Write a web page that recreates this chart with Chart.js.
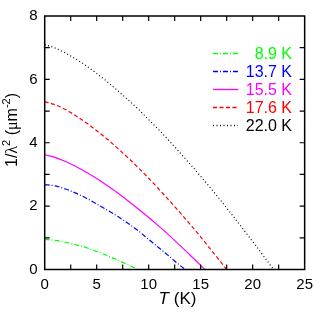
<!DOCTYPE html>
<html lang="en">
<head>
    <meta charset="UTF-8">
    <title>1/lambda^2 vs T</title>
    <script src="https://cdn.jsdelivr.net/npm/chart.js"></script>
    <style>
        body { margin: 0; padding: 0; background: #fff; }
        #wrap { width: 319px; height: 314px; }
    </style>
</head>
<body>
<div id="wrap"><canvas id="lambdaChart" width="319" height="314"></canvas></div>
<script>
    // 1/lambda^2 (um^-2), per sample
    const tcLabels = ['8.9 K', '13.7 K', '15.5 K', '17.6 K', '22.0 K'];

    const temps89 = [0, 1, 2, 3, 4, 5, 6, 7, 8, 8.5, 8.9];
    const vals89  = [0.95, 0.92, 0.86, 0.78, 0.69, 0.57, 0.44, 0.30, 0.15, 0.07, 0];

    const temps137 = [0, 1, 2, 3, 4, 5, 6, 7, 8, 9, 10, 11, 12, 13, 13.55];
    const vals137  = [2.68, 2.64, 2.54, 2.41, 2.25, 2.07, 1.88, 1.68, 1.46, 1.22, 0.95, 0.68, 0.41, 0.13, 0];

    const temps155 = [0, 1, 2, 3, 4, 5, 6, 7, 8, 9, 10, 11, 12, 13, 14, 15, 15.4];
    const vals155  = [3.62, 3.54, 3.41, 3.25, 3.07, 2.87, 2.65, 2.42, 2.17, 1.91, 1.64, 1.36, 1.07, 0.76, 0.45, 0.13, 0];

    const temps176 = [0, 1, 2, 3, 4, 5, 6, 7, 8, 9, 10, 11, 12, 13, 14, 15, 16, 17, 17.5];
    const vals176  = [5.30, 5.20, 5.05, 4.85, 4.63, 4.38, 4.12, 3.83, 3.53, 3.21, 2.88, 2.53, 2.17, 1.80, 1.42, 1.03, 0.62, 0.21, 0];

    const temps220 = [0, 1, 2, 3, 4, 5, 6, 7, 8, 9, 10, 11, 12, 13, 14, 15, 16, 17, 18, 19, 20, 21, 22];
    const vals220  = [7.10, 6.99, 6.83, 6.64, 6.43, 6.19, 5.93, 5.65, 5.36, 5.06, 4.73, 4.40, 4.05, 3.69, 3.32, 2.94, 2.55, 2.15, 1.73, 1.31, 0.88, 0.45, 0];

    const xTicks = [0, 5, 10, 15, 20, 25];
    const yTicks = [0, 2, 4, 6, 8];

    const FONT = '"Liberation Sans", Arial, Helvetica, sans-serif';

    const lineColors = ['#00ff00', '#0000ff', '#ff00ff', '#ff0000', '#000000'];
    const lineDashes = [[5, 2, 1, 2], [5, 2, 1, 2], [], [4, 2.5], [1, 2.5]];

    function pts(xs, ys) {
        return xs.map((x, i) => ({ x: x, y: ys[i] }));
    }

    const series = [
        pts(temps89, vals89),
        pts(temps137, vals137),
        pts(temps155, vals155),
        pts(temps176, vals176),
        pts(temps220, vals220)
    ];

    // frame, inward ticks, legend and axis titles
    const decor = {
        id: 'decor',
        afterDraw(chart) {
            const ctx = chart.ctx;
            const a = chart.chartArea;
            const xs = chart.scales.x, ys = chart.scales.y;
            ctx.save();
            ctx.strokeStyle = '#000';
            ctx.lineWidth = 1.5;
            ctx.setLineDash([]);
            ctx.strokeRect(a.left, a.top, a.right - a.left, a.bottom - a.top);

            ctx.lineWidth = 1.2;
            ctx.beginPath();
            for (let v = 2.5; v < 25; v += 2.5) {
                const px = xs.getPixelForValue(v);
                ctx.moveTo(px, a.bottom); ctx.lineTo(px, a.bottom - 5);
                ctx.moveTo(px, a.top); ctx.lineTo(px, a.top + 5);
            }
            for (let v = 1; v < 8; v += 1) {
                const py = ys.getPixelForValue(v);
                ctx.moveTo(a.left, py); ctx.lineTo(a.left + 5, py);
                ctx.moveTo(a.right, py); ctx.lineTo(a.right - 5, py);
            }
            ctx.stroke();
            ctx.restore();

            // legend
            const rowY = [53.5, 71.5, 89.5, 107.5, 125.5];
            for (let i = 0; i < tcLabels.length; i++) {
                ctx.save();
                ctx.setLineDash(lineDashes[i]);
                ctx.lineWidth = 1.3;
                ctx.strokeStyle = lineColors[i];
                ctx.beginPath();
                ctx.moveTo(213, rowY[i]);
                ctx.lineTo(238, rowY[i]);
                ctx.stroke();
                ctx.font = '16px ' + FONT;
                ctx.textAlign = 'right';
                ctx.textBaseline = 'middle';
                ctx.fillStyle = lineColors[i];
                ctx.fillText(tcLabels[i], 292, rowY[i] + 1);
                ctx.restore();
            }

            // x title: T (K)
            ctx.save();
            ctx.fillStyle = '#000';
            ctx.textBaseline = 'middle';
            ctx.textAlign = 'left';
            const italic = 'italic 17px ' + FONT;
            const normal = '17px ' + FONT;
            ctx.font = italic;
            const wT = ctx.measureText('T').width;
            ctx.font = normal;
            const wK = ctx.measureText(' (K)').width;
            let x0 = 177.5 - (wT + wK) / 2;
            ctx.font = italic;
            ctx.fillText('T', x0, 299);
            ctx.font = normal;
            ctx.fillText(' (K)', x0 + wT, 299);

            // y title: 1/lambda^2 (um^-2), rotated
            ctx.translate(13, 130);
            ctx.rotate(-Math.PI / 2);
            const parts = [
                { t: '1/', f: '16px ' + FONT, dy: 0 },
                { t: 'λ', f: '16px "Liberation Serif", serif', dy: 0 },
                { t: '2', f: '11px ' + FONT, dy: -6 },
                { t: ' (', f: '16px ' + FONT, dy: 0 },
                { t: 'μ', f: '16px "Liberation Serif", serif', dy: 0 },
                { t: 'm', f: '16px ' + FONT, dy: 0 },
                { t: '-2', f: '11px ' + FONT, dy: -6 },
                { t: ')', f: '16px ' + FONT, dy: 0 }
            ];
            let total = 0;
            parts.forEach(p => { ctx.font = p.f; p.w = ctx.measureText(p.t).width; total += p.w; });
            let cx = -total / 2;
            parts.forEach(p => {
                ctx.font = p.f;
                ctx.fillText(p.t, cx, p.dy);
                cx += p.w;
            });
            ctx.restore();
        }
    };

    new Chart(document.getElementById('lambdaChart'), {
        type: 'line',
        data: {
            datasets: series.map((d, i) => ({
                label: tcLabels[i],
                data: d,
                borderColor: lineColors[i],
                borderDash: lineDashes[i],
                borderWidth: 1.2,
                pointRadius: 0,
                fill: false,
                cubicInterpolationMode: 'monotone'
            }))
        },
        options: {
            responsive: false,
            animation: false,
            devicePixelRatio: 1,
            layout: { padding: { top: 7, right: 11, left: 0, bottom: 0 } },
            plugins: { legend: { display: false }, tooltip: { enabled: false } },
            scales: {
                x: {
                    type: 'linear',
                    min: 0, max: 25,
                    afterBuildTicks: s => { s.ticks = xTicks.map(v => ({ value: v })); },
                    afterFit: s => { s.height = 44.5; },
                    grid: { display: false, drawTicks: false },
                    border: { display: false },
                    ticks: { color: '#000', font: { family: FONT, size: 15 }, padding: 6, maxRotation: 0 }
                },
                y: {
                    type: 'linear',
                    min: 0, max: 8,
                    afterBuildTicks: s => { s.ticks = yTicks.map(v => ({ value: v })); },
                    afterFit: s => { s.width = 44.7; },
                    grid: { display: false, drawTicks: false },
                    border: { display: false },
                    ticks: { color: '#000', font: { family: FONT, size: 15 }, padding: 7 }
                }
            }
        },
        plugins: [decor]
    });
</script>
</body>
</html>
